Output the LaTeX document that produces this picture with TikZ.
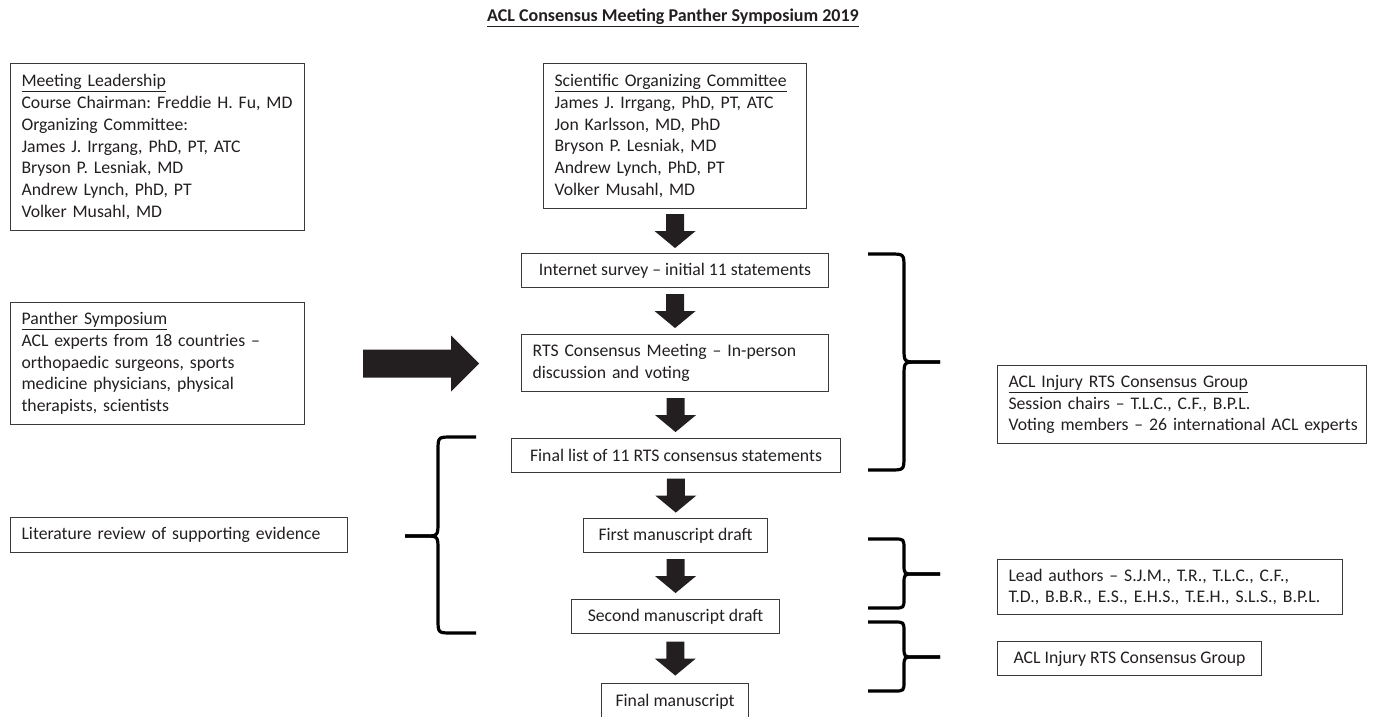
\documentclass[tikz,border=0pt]{standalone}
\usepackage{fontspec}
\setmainfont{Carlito}
\usetikzlibrary{calc}
\definecolor{txt}{HTML}{231F20}
\definecolor{brd}{HTML}{3A3A3A}
\definecolor{arrfill}{HTML}{231F20}
\newcommand\BlkArr[2]{\fill[arr] ($(#1.south)!0.5!(#2.north)$) +(-9,-17) -- +(9,-17) -- +(9,0) -- +(20.5,0) -- +(0,17) -- +(-20.5,0) -- +(-9,0) -- cycle;}
% x0 xs xt yt ym yb dir r
\newcommand\Brc[8]{%
  \draw[brc] (#1,#4) -- ({#2-#8*(#7)},#4) .. controls (#2,#4) .. (#2,{#4+#8}) -- (#2,{#5-#8}) .. controls (#2,#5) .. ({#2+#8*(#7)},#5) -- (#3,#5);
  \draw[brc] (#3,#5) -- ({#2+#8*(#7)},#5) .. controls (#2,#5) .. (#2,{#5+#8}) -- (#2,{#6-#8}) .. controls (#2,#6) .. ({#2-#8*(#7)},#6) -- (#1,#6);}
\newcommand\ULn[1]{\underline{#1}}
\begin{document}
\frenchspacing
\begin{tikzpicture}[x=1pt,y=-1pt,
  font=\fontsize{17.7}{21.7}\selectfont\frenchspacing, text=txt,
  box/.style={draw=brd, line width=1.1pt, anchor=north west, inner xsep=11pt, inner ysep=0pt, align=left, text=txt},
  cbox/.style={draw=brd, line width=1.1pt, anchor=north west, inner xsep=4pt, inner ysep=0pt, align=center, text=txt},
  arr/.style={fill=arrfill},
  brc/.style={draw=black, line width=3.2pt, line cap=butt, line join=round}]
\useasboundingbox (0,0) rectangle (1382,716);

\node[font=\bfseries\fontsize{18}{21}\selectfont\frenchspacing] (title) at (673,18) {\ULn{ACL Consensus Meeting Panther Symposium 2019}};

\node[box, text width=272pt, minimum height=167pt] (lead) at (10,63)
  {\ULn{Meeting Leadership}\\\mbox{Course Chairman: Freddie H. Fu, MD}\\Organizing Committee:\\James J. Irrgang, PhD, PT, ATC\\Bryson P. Lesniak, MD\\Andrew Lynch, PhD, PT\\Volker Musahl, MD};
\node[box, text width=241pt, minimum height=145pt] (sci) at (543,63)
  {\ULn{Scientific Organizing Committee}\\James J. Irrgang, PhD, PT, ATC\\Jon Karlsson, MD, PhD\\Bryson P. Lesniak, MD\\Andrew Lynch, PhD, PT\\Volker Musahl, MD};
\node[box, text width=272pt, minimum height=122pt] (panther) at (10,302)
  {\ULn{Panther Symposium}\\ACL experts from 18 countries --\\orthopaedic surgeons, sports\\medicine physicians, physical\\therapists, scientists};
\node[box, text width=315pt, minimum height=35pt] (lit) at (10,517)
  {\mbox{Literature review of supporting evidence}};

\node[cbox, minimum width=307pt, minimum height=34pt] (inet) at (521,253)
  {Internet survey -- initial 11 statements};
\node[box, text width=285pt, minimum height=57pt] (rts) at (521,334)
  {RTS Consensus Meeting -- In-person\\discussion and voting};
\node[cbox, minimum width=329pt, minimum height=34pt] (flist) at (511,438)
  {Final list of 11 RTS consensus statements};
\node[cbox, minimum width=184pt, minimum height=34pt] (first) at (583,518)
  {First manuscript draft};
\node[cbox, minimum width=208pt, minimum height=34pt] (second) at (571,599)
  {Second manuscript draft};
\node[cbox, minimum width=147pt, minimum height=36pt] (fman) at (601,683)
  {Final manuscript};

\node[box, text width=347pt, minimum height=78pt] (grp) at (997,365)
  {\ULn{ACL Injury RTS Consensus Group}\\Session chairs -- T.L.C., C.F., B.P.L.\\\mbox{Voting members -- 26 international ACL experts}};
\node[box, text width=323pt, minimum height=55pt] (authors) at (997,559)
  {Lead authors -- S.J.M., T.R., T.L.C., C.F.,\\\mbox{T.D., B.B.R., E.S., E.H.S., T.E.H., S.L.S., B.P.L.}};
\node[cbox, minimum width=264pt, minimum height=34pt] (grp2) at (997,641)
  {ACL Injury RTS Consensus Group};

\BlkArr{sci}{inet}
\BlkArr{inet}{rts}
\BlkArr{rts}{flist}
\BlkArr{flist}{first}
\BlkArr{first}{second}
\BlkArr{second}{fman}

\fill[arr] ($(panther.east)+(58,-14)$) -- ++(88,0) -- ++(0,-14) -- ++(28,28) -- ++(-28,28) -- ++(0,-14) -- ++(-88,0) -- cycle;

\Brc{868}{904}{940}{254}{362}{470}{1}{14}
\Brc{868}{904}{940}{539}{574}{608}{1}{10}
\Brc{868}{904}{940}{622}{657}{691}{1}{10}
\Brc{476}{438}{405}{437}{536}{633}{-1}{14}
\end{tikzpicture}
\end{document}
